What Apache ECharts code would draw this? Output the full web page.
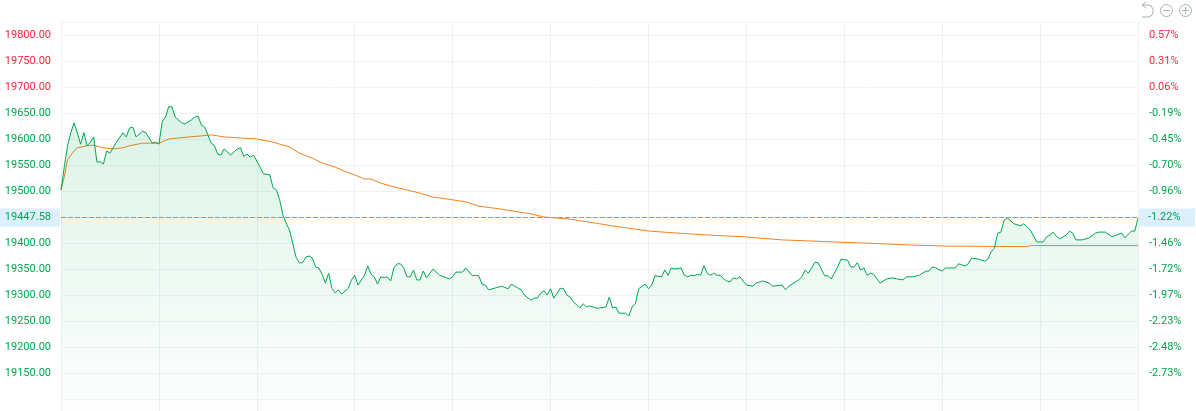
<!DOCTYPE html>
<html><head><meta charset="utf-8">
<style>html,body{margin:0;padding:0;background:#fff;overflow:hidden}#c{width:1196px;height:411px}</style>
<script src="https://cdn.jsdelivr.net/npm/echarts@6/dist/echarts.min.js"></script>
</head><body><div id="c"></div>
<script>
const priceMinutes=[0,1,2,3,4,5,6,7,8,9,10,11,12,13,14,15,17,19,20,21,22,23,25,26,28,29,30,31,32,33,34,35,37,38,40,41,42,43,44,45,46,47,48,49,50,52,54,55,56,57,58,59,61,62,64,65,66,67,68,69,70,71,72,73,74,75,76,77,78,79,80,81,82,83,84,85,86,88,89,90,91,93,94,95,96,97,98,99,100,101,102,103,104,105,106,107,108,109,110,111,112,114,116,119,120,121,123,124,126,127,128,129,130,131,134,135,137,138,139,141,142,144,145,146,147,148,149,150,151,153,154,155,156,157,159,160,161,162,164,165,167,168,169,170,171,173,174,175,176,177,179,180,181,182,184,185,186,187,188,190,191,192,193,194,195,196,197,198,199,200,201,202,203,204,205,206,207,208,210,212,213,215,217,218,221,222,223,226,227,228,229,230,231,232,234,235,236,238,239,241,242,243,244,245,246,247,248,249,251,253,255,256,258,259,261,263,265,266,267,268,270,271,272,274,275,276,277,278,279,281,283,284,285,286,287,288,289,290,292,294,295,297,299,301,302,303,304,305,306,308,309,310,311,313,315,317,318,320,322,325,326,328,329,330];
const priceValues=[19502,19546,19587,19612,19631,19612,19590,19612,19587,19594,19604,19556,19556,19552,19577,19573,19594,19612,19604,19621,19623,19604,19615,19612,19592,19594,19590,19633,19642,19662,19662,19642,19631,19629,19637,19642,19644,19627,19623,19608,19592,19588,19571,19569,19581,19569,19581,19583,19567,19571,19565,19569,19546,19533,19531,19506,19502,19483,19454,19438,19425,19400,19373,19362,19362,19373,19375,19371,19354,19352,19340,19323,19342,19313,19304,19310,19302,19313,19329,19338,19319,19338,19356,19340,19335,19321,19335,19333,19335,19327,19352,19360,19360,19352,19335,19335,19348,19329,19329,19346,19333,19350,19338,19331,19335,19344,19344,19352,19337,19338,19337,19321,19319,19310,19315,19317,19312,19321,19317,19310,19300,19290,19294,19294,19304,19308,19300,19312,19294,19313,19312,19300,19296,19287,19275,19283,19277,19279,19275,19275,19277,19296,19275,19277,19265,19265,19260,19277,19283,19312,19321,19312,19319,19337,19335,19348,19338,19352,19350,19352,19338,19335,19338,19337,19340,19338,19356,19342,19338,19342,19338,19338,19331,19327,19325,19333,19331,19335,19319,19317,19323,19327,19323,19317,19319,19310,19317,19329,19335,19348,19342,19352,19363,19362,19337,19337,19331,19354,19369,19367,19354,19354,19362,19348,19352,19338,19342,19340,19323,19331,19333,19331,19329,19335,19335,19338,19346,19346,19354,19352,19346,19352,19352,19352,19360,19358,19356,19360,19371,19369,19365,19369,19383,19390,19419,19421,19444,19448,19437,19433,19437,19425,19402,19402,19412,19415,19421,19413,19408,19415,19423,19419,19406,19406,19410,19419,19421,19421,19412,19419,19410,19423,19423,19447.58];
const avgMinutes=[0,1,2,4,5,8,10,13,16,19,21,25,30,33,36,43,46,50,55,60,65,67,70,73,77,80,84,88,90,93,95,98,102,106,110,114,117,120,124,128,135,144,148,156,165,171,180,189,199,209,221,237,246,261,272,296,297,330];
const avgValues=[19502,19527,19560,19577,19583,19587,19588,19583,19581,19583,19587,19592,19592,19600,19602,19606,19608,19604,19602,19600,19594,19590,19585,19573,19563,19554,19546,19535,19531,19523,19523,19515,19508,19502,19496,19488,19486,19483,19479,19471,19465,19456,19450,19446,19437,19431,19423,19419,19415,19412,19406,19402,19400,19396,19394,19393,19395,19395];
const priceTicks=[19800,19750,19700,19650,19600,19550,19500,19400,19350,19300,19250,19200,19150];
const percentTicks=['0.57%','0.31%','0.06%','-0.19%','-0.45%','-0.70%','-0.96%','-1.46%','-1.72%','-1.97%','-2.23%','-2.48%','-2.73%'];
const lastPriceLevel=19449, lastPriceLabel='19447.58', lastPercentLabel='-1.22%';
const redAbove=19688, RED='#f5283c', GREEN='#00a84f', ORANGE='#f58220', ICON='#a9afb8';
const FONT='Roboto', FS=11;
const zip=(a,b)=>a.map((v,i)=>[v,b[i]]);
const tickColor=v=>v>redAbove?RED:GREEN;
const chart=echarts.init(document.getElementById('c'),null,{renderer:'canvas'});
const boxLabel=(text,position,width,align)=>({show:true,position,formatter:text,color:GREEN,fontFamily:FONT,fontSize:FS,backgroundColor:'#ddeefc',width,height:18,lineHeight:18,align,distance:1,padding:align==='right'?[0,9,0,0]:[0,0,0,9]});
const stroke={fill:'none',stroke:ICON,lineWidth:1};
chart.setOption({
 animation:false,backgroundColor:'#fff',
 grid:{left:61,right:58,top:22,bottom:-14,containLabel:false,outerBoundsMode:'none'},
 graphic:[
  {type:'polyline',silent:true,shape:{points:[[1146,2],[1142,5],[1146,8]]},style:stroke,z:20},
  {type:'polyline',silent:true,shape:{points:[[1142,5],[1148,5],[1151,6],[1153,9],[1153,13],[1152,15],[1149,17],[1142,17]]},style:stroke,z:20},
  {type:'circle',silent:true,shape:{cx:1166.5,cy:10.5,r:6},style:stroke,z:20},
  {type:'line',silent:true,shape:{x1:1163,y1:10.5,x2:1170,y2:10.5},style:stroke,z:20},
  {type:'circle',silent:true,shape:{cx:1185.5,cy:10.5,r:6},style:stroke,z:20},
  {type:'line',silent:true,shape:{x1:1182,y1:10.5,x2:1189,y2:10.5},style:stroke,z:20},
  {type:'line',silent:true,shape:{x1:1185.5,y1:7,x2:1185.5,y2:14},style:stroke,z:20}
 ],
 xAxis:{type:'value',min:0,max:330,interval:30,
  axisLine:{show:false},axisTick:{show:false},axisLabel:{show:false},
  splitLine:{show:true,lineStyle:{color:'#eef1f5',width:1}}},
 yAxis:[
  {type:'value',min:19050,max:19825,interval:50,position:'left',
   axisLine:{show:false},axisTick:{show:false},
   axisLabel:{margin:10,fontFamily:FONT,fontSize:FS,hideOverlap:false,padding:[2,0,0,0],
    formatter:v=>priceTicks.includes(v)?v.toFixed(2):'',color:tickColor},
   splitLine:{show:true,lineStyle:{color:'#f0f2f5',width:1}}},
  {type:'value',min:19050,max:19825,interval:50,position:'right',
   axisLine:{show:false},axisTick:{show:false},splitLine:{show:false},
   axisLabel:{margin:11,fontFamily:FONT,fontSize:FS,align:'left',hideOverlap:false,padding:[2,0,0,0],
    formatter:v=>{const i=priceTicks.indexOf(v);return i<0?'':percentTicks[i];},color:tickColor}}
 ],
 series:[
  {name:'avg',type:'line',data:zip(avgMinutes,avgValues),showSymbol:false,symbol:'none',z:3,silent:true,
   lineStyle:{color:ORANGE,width:1}},
  {name:'price',type:'line',data:zip(priceMinutes,priceValues),showSymbol:false,symbol:'none',z:4,silent:true,
   lineStyle:{color:GREEN,width:1},
   areaStyle:{origin:'start',opacity:1,color:new echarts.graphic.LinearGradient(0,0,0,1,[{offset:0,color:'rgba(0,168,79,0.14)'},{offset:1,color:'rgba(0,168,79,0)'}])},
   markLine:{silent:true,symbol:'none',animation:false,
    lineStyle:{color:ORANGE,type:[5,2],width:1,opacity:1},
    data:[
     {yAxis:lastPriceLevel,label:boxLabel(lastPriceLabel,'start',51,'right')},
     {yAxis:lastPriceLevel,label:boxLabel(lastPercentLabel,'end',47,'left')}
    ]}}
 ]
});
</script></body></html>
